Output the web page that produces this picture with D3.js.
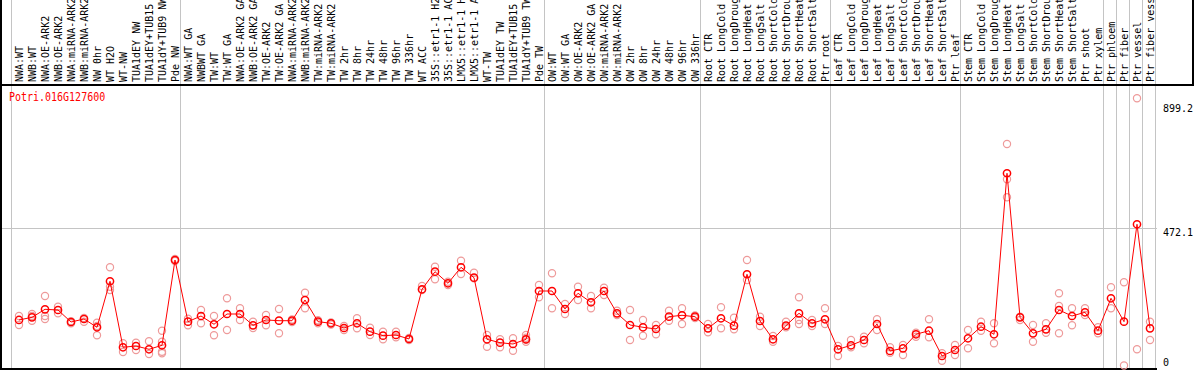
<!DOCTYPE html>
<html>
<head>
<meta charset="utf-8">
<script src="https://cdnjs.cloudflare.com/ajax/libs/d3/7.8.5/d3.min.js"></script>
<style>
body { margin: 0; background: #fff; }
svg { display: block; font-family: "DejaVu Sans Mono", monospace; font-size: 10px; }
</style>
</head>
<body>
<div id="container"></div>
<script>
var geneName = "Potri.016G127600";

var sampleNames = [
    "NWA:WT", "NWB:WT", "NWA:OE-ARK2", "NWB:OE-ARK2", "NWA:miRNA-ARK2", "NWB:miRNA-ARK2",
    "NW 0hr", "WT H2O", "WT-NW", "TUA1dEY NW", "TUA1dEY+TUB15 NW", "TUA1dY+TUB9 NW", "Pde NW",
    "NWA:WT GA", "NWBWT GA", "TW:WT", "TW:WT GA", "NWA:OE-ARK2 GA", "NWB:OE-ARK2 GA",
    "TW:OE-ARK2", "TW:OE-ARK2 GA", "NWA:miRNA-ARK2 GA", "NWB:miRNA-ARK2 GA", "TW:miRNA-ARK2",
    "TW:miRNA-ARK2 GA", "TW 2hr", "TW 8hr", "TW 24hr", "TW 48hr", "TW 96hr", "TW 336hr", "WT ACC",
    "35S::etr1-1 H2O", "35S::etr1-1 ACC", "LMX5::etr1-1 H2O", "LMX5::etr1-1 ACC", "WT-TW",
    "TUA1dEY TW", "TUA1dEY+TUB15 TW", "TUA1dY+TUB9 TW", "Pde TW",
    "OW:WT", "OW:WT GA", "OW:OE-ARK2", "OW:OE-ARK2 GA", "OW:miRNA-ARK2", "OW:miRNA-ARK2 GA",
    "OW 2hr", "OW 8hr", "OW 24hr", "OW 48hr", "OW 96hr", "OW 336hr",
    "Root CTR", "Root LongCold", "Root LongDrought", "Root LongHeat", "Root LongSalt",
    "Root ShortCold", "Root ShortDrought", "Root ShortHeat", "Root ShortSalt", "Ptr root",
    "Leaf CTR", "Leaf LongCold", "Leaf LongDrought", "Leaf LongHeat", "Leaf LongSalt",
    "Leaf ShortCold", "Leaf ShortDrought", "Leaf ShortHeat", "Leaf ShortSalt", "Ptr leaf",
    "Stem CTR", "Stem LongCold", "Stem LongDrought", "Stem LongHeat", "Stem LongSalt",
    "Stem ShortCold", "Stem ShortDrought", "Stem ShortHeat", "Stem ShortSalt", "Ptr shoot", "Ptr xylem",
    "Ptr phloem", "Ptr fiber", "Ptr vessel", "Ptr fiber vessel"
];

var groupSizes = [13, 28, 12, 10, 10, 11, 1, 1, 1, 1];

var meanValues = [
    156, 165.1, 192.5, 190.1, 149, 159.3, 130.9, 288.5, 62.4, 66.8, 55.5, 69.2, 361.4,
    150.1, 169.6, 141.2, 176.4, 176.4, 137.7, 155.9, 153.5, 153.5, 224.4, 150.1, 144.6, 128.5, 144.6,
    115.8, 102.1, 104.5, 90.8, 261.1, 321.4, 281.6, 336.4, 300.8, 89.8, 78.1, 73.7, 89.8, 255.2,
    255.2, 193.6, 247.4, 216.5, 255.2, 178.8, 138.8, 130.9, 125, 167.2, 172, 167.2,
    127.4, 161.7, 136.4, 312.5, 152.5, 89.8, 136.4, 178.8, 144.6, 158.3,
    55.5, 69.2, 87.4, 142.2, 49.7, 58.9, 106.9, 119.2, 32.5, 53.1,
    93.2, 132.9, 106.9, 658.5, 165.1, 110.3, 124, 190.1, 169.6, 182.3, 119.2,
    230.2, 150.1, 483.8, 127.4
];

var replicateValues = [
    [169.6, 138.7], [176.4, 169.6, 153.5], [238.1, 169.6, 159.3], [201.4, 178.8], [151.4, 144.6],
    [162.7, 150.1], [146.6, 135.3, 103.5], [336.4, 270, 258.7], [76.1, 46.3], [78.1, 53.1],
    [82.9, 39.4], [119.2, 81.5, 47.3, 41.8], [364.9, 358],
    [160.3, 137.7], [190.1, 144.6], [169.6, 103.5], [230.2, 121.6], [196, 155.9], [150.1, 128.5],
    [173, 137.7], [193.6, 110.3], [157.6, 149], [249.4, 196], [154.9, 144.6], [147.3, 140.5],
    [135.3, 121.6], [161.7, 127.4], [129.5, 104.5], [115.8, 89.8], [115.8, 96.6], [94.2, 87.4],
    [272.4, 258.7], [338.5, 295.3], [287.1, 275.8], [359, 313.5], [317.9, 298.7], [104.5, 64.4],
    [89.8, 62.4], [93.2, 50.7], [104.5, 81.5, 95, 88], [275.8, 233.7],
    [315.9, 196], [210.7, 176.4], [270, 224.4], [238.1, 196], [266.5, 241.5], [187.7, 173],
    [190.1, 87.4], [155.9, 102.1], [138.8, 106.9], [187.7, 153.5], [196, 142.2], [171.3, 162.7],
    [142.2, 113.7], [199.4, 127.4], [163.8, 124], [361.4, 292.9], [167.2, 135.3], [101.1, 81.5],
    [150.1, 130.9], [233.7, 155.9, 142.2], [155.9, 135.3], [196, 142.2],
    [66.8, 32.5], [87.4, 62.4], [98.7, 76.1], [158.3, 121.6], [62.4, 43.9], [70.2, 36],
    [112.4, 98.7], [158.3, 96.6], [41.8, 16.4], [70.2, 36],
    [121.6, 58.9], [150.1, 119.2], [144.6, 76.1], [758.9, 637.9, 576.3], [155.9, 167.2],
    [138.8, 81.5], [144.6, 112.4], [247.4, 203.8, 110.3], [196, 137.7], [196, 173], [130.9, 110.3],
    [267.9, 196], [285, 0], [915.4, 55.5], [150.1, 87.4]
];

var yTickValues = [0, 472.1, 899.2];
var gridValues = [472.1];

(function() {
    "use strict";

    var width = 1194,
        height = 370,
        headerBottom = 85,
        plotRight = 1157;

    var x = d3.scaleBand()
        .domain(d3.range(sampleNames.length))
        .range([11.5, 1155.5]);

    var y = d3.scaleLinear()
        .domain([0, 899.2])
        .range([365.5, 103]);

    function cx(i) {
        return x(i) + x.bandwidth() / 2 + 1;
    }

    var svg = d3.select("#container").append("svg")
        .attr("width", width)
        .attr("height", height);

    // group separators
    var bounds = [0];
    groupSizes.forEach(function(n) {
        bounds.push(bounds[bounds.length - 1] + n);
    });

    svg.append("g")
        .selectAll("line")
        .data(bounds)
        .enter().append("line")
            .attr("x1", function(d) { return x.range()[0] + d * x.step(); })
            .attr("x2", function(d) { return x.range()[0] + d * x.step(); })
            .attr("y1", 0)
            .attr("y2", height)
            .attr("stroke", "#c4c4c4")
            .attr("stroke-width", 1);

    svg.append("g")
        .selectAll("line")
        .data(gridValues)
        .enter().append("line")
            .attr("x1", 0)
            .attr("x2", plotRight)
            .attr("y1", function(d) { return Math.round(y(d)) + 0.5; })
            .attr("y2", function(d) { return Math.round(y(d)) + 0.5; })
            .attr("stroke", "#c4c4c4")
            .attr("stroke-width", 1);

    // frame
    svg.append("line").attr("x1", 0).attr("x2", width).attr("y1", headerBottom).attr("y2", headerBottom)
        .attr("stroke", "#000").attr("stroke-width", 2);
    svg.append("line").attr("x1", 1).attr("x2", 1).attr("y1", 0).attr("y2", height)
        .attr("stroke", "#000").attr("stroke-width", 2);
    svg.append("line").attr("x1", 0).attr("x2", plotRight).attr("y1", 369).attr("y2", 369)
        .attr("stroke", "#000").attr("stroke-width", 2);
    svg.append("line").attr("x1", 1193).attr("x2", 1193).attr("y1", 0).attr("y2", headerBottom)
        .attr("stroke", "#000").attr("stroke-width", 2);

    // sample labels
    svg.append("g")
        .selectAll("text")
        .data(sampleNames)
        .enter().append("text")
            .attr("transform", function(d, i) {
                return "translate(" + (cx(i) + 3.5) + ",82) rotate(-90)";
            })
            .attr("fill", "#000")
            .text(function(d) { return d; });

    svg.append("text")
        .attr("transform", "translate(9,101) scale(1,1.3)")
        .attr("fill", "#ff0000")
        .text(geneName);

    // y axis on the right
    var axis = svg.append("g")
        .attr("transform", "translate(1160,0)")
        .call(d3.axisRight(y).tickValues(yTickValues).tickSize(0).tickPadding(3)
            .tickFormat(function(d) { return String(d); }));

    axis.attr("font-family", "DejaVu Sans Mono").attr("font-size", 10);
    axis.select(".domain").remove();
    axis.selectAll("text")
        .attr("fill", "#000")
        .attr("dy", function(d) { return d === 0 ? 0 : 8; });

    // replicates
    var reps = [];
    replicateValues.forEach(function(vals, i) {
        vals.forEach(function(v) {
            reps.push({ i: i, v: v });
        });
    });

    svg.append("g")
        .selectAll("circle")
        .data(reps)
        .enter().append("circle")
            .attr("cx", function(d) { return cx(d.i); })
            .attr("cy", function(d) { return y(d.v); })
            .attr("r", 3.6)
            .attr("fill", "none")
            .attr("stroke", "#ee9a9a")
            .attr("stroke-width", 1.2);

    var line = d3.line()
        .x(function(d, i) { return cx(i); })
        .y(function(d) { return y(d); });

    svg.append("path")
        .datum(meanValues)
        .attr("d", line)
        .attr("fill", "none")
        .attr("stroke", "#ff0000")
        .attr("stroke-width", 1);

    svg.append("g")
        .selectAll("circle")
        .data(meanValues)
        .enter().append("circle")
            .attr("cx", function(d, i) { return cx(i); })
            .attr("cy", function(d) { return y(d); })
            .attr("r", 3.6)
            .attr("fill", "none")
            .attr("stroke", "#ff0000")
            .attr("stroke-width", 1.5);
})();
</script>
</body>
</html>
